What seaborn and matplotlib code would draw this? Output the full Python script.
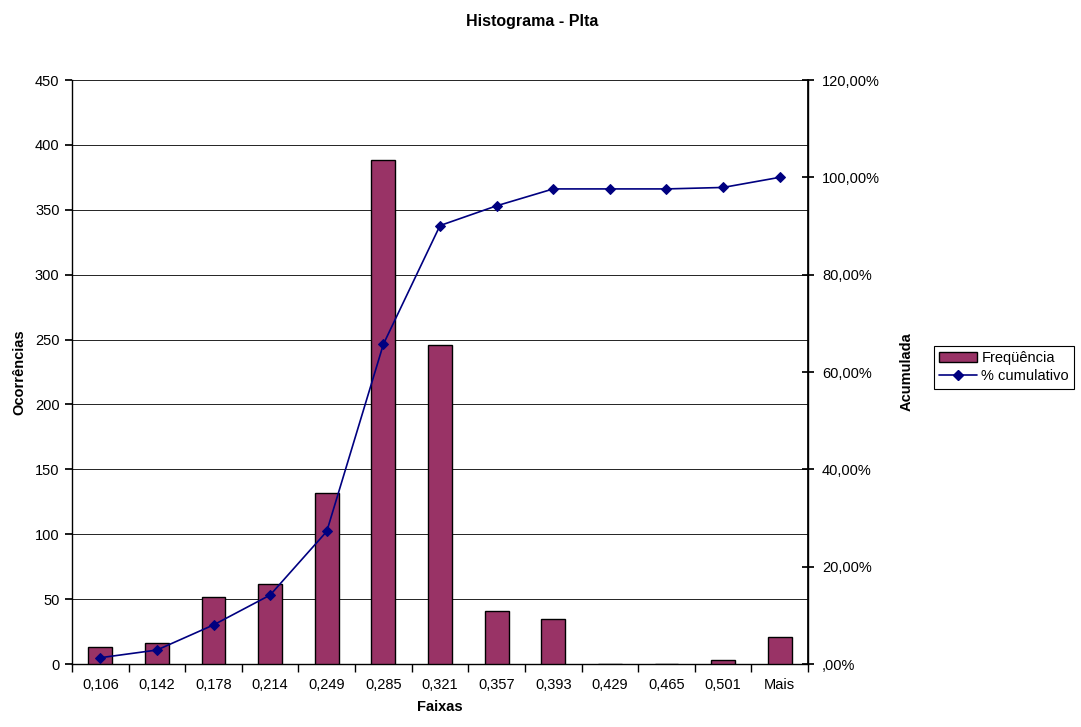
import matplotlib
matplotlib.use("Agg")
import matplotlib.pyplot as plt
import seaborn as sns
import pandas as pd
import numpy as np
from matplotlib.ticker import FuncFormatter, FixedLocator
from matplotlib.lines import Line2D
from matplotlib.patches import Patch

categories = ["0,106", "0,142", "0,178", "0,214", "0,249", "0,285", "0,321",
              "0,357", "0,393", "0,429", "0,465", "0,501", "Mais"]
frequencia = [13, 16, 52, 62, 132, 388, 246, 41, 35, 0, 0, 3, 21]
cumulativo = [1.29, 2.87, 8.03, 14.17, 27.25, 65.71, 90.09, 94.15, 97.62, 97.62, 97.62, 97.92, 100.0]

sns.set_theme(style="white")
plt.rcParams['font.family'] = ['Liberation Sans', 'DejaVu Sans']
plt.rcParams['text.color'] = 'black'
plt.rcParams['axes.labelcolor'] = 'black'
plt.rcParams['xtick.color'] = 'black'
plt.rcParams['ytick.color'] = 'black'

df = pd.DataFrame({"cat": categories, "freq": frequencia, "cum": [c / 100 for c in cumulativo]})
df["x"] = range(len(categories))

fig = plt.figure(figsize=(10.81, 7.27), dpi=100)
ax = fig.add_axes([72/1081, 1 - 664/727, (808-72)/1081, (664-80)/727])

sns.barplot(data=df, x="cat", y="freq", ax=ax, color="#993366", saturation=1,
            width=0.42, edgecolor="black", linewidth=1.0, zorder=3)
ax.set_xlim(-0.5, len(categories) - 0.5)
ax.set_ylim(0, 450)
ax.set_yticks(range(0, 451, 50))
ax.grid(axis="y", color="black", linewidth=0.6, zorder=0)
ax.set_axisbelow(True)
ax.spines["top"].set_visible(False)
for s in ["left", "bottom", "right"]:
    ax.spines[s].set_color("black")
    ax.spines[s].set_linewidth(1.0)
ax.tick_params(axis="y", which="major", direction="out", length=5, color="black",
               labelsize=10.5, left=True, pad=4, labelcolor="black")
ax.tick_params(axis="x", which="major", length=0, labelsize=10.5, pad=10, labelcolor="black")
ax.xaxis.set_minor_locator(FixedLocator(np.arange(-0.5, len(categories), 1.0)))
ax.tick_params(axis="x", which="minor", direction="out", length=6, color="black", bottom=True)
ax.set_xlabel("Faixas", fontsize=10.5, fontweight="bold", labelpad=6, color="black")
ax.set_ylabel("Ocorrências", fontsize=10.5, fontweight="bold", labelpad=6, color="black")

ax2 = ax.twinx()
sns.lineplot(data=df, x="x", y="cum", ax=ax2, color="#000080", marker="D",
             markersize=5.5, markeredgecolor="#000080", linewidth=1.2, zorder=4)
ax2.set_ylim(0, 1.2)
ax2.set_yticks(np.arange(0, 1.21, 0.2))

def pct(v, pos):
    s = f"{v*100:.2f}".replace(".", ",")
    if s.startswith("0,"):
        s = s[1:]
    return s + "%"

ax2.yaxis.set_major_formatter(FuncFormatter(pct))
ax2.tick_params(axis="y", which="major", direction="inout", length=8, color="black",
                labelsize=10.5, right=True, pad=6, labelcolor="black")
ax2.set_ylabel("Acumulada", fontsize=10.5, fontweight="bold", labelpad=14, color="black")
ax2.grid(False)
for s in ["top", "left", "bottom"]:
    ax2.spines[s].set_visible(False)
ax2.spines["right"].set_color("black")
ax2.set_xlim(-0.5, len(categories) - 0.5)

fig.suptitle("Histograma - Plta", x=532/1081, y=1 - 14/727,
             fontsize=11.5, fontweight="bold", va="top", color="black")

handles = [Patch(facecolor="#993366", edgecolor="black", linewidth=1.0, label="Freqüência"),
           Line2D([0], [0], color="#000080", marker="D", markersize=5.5, linewidth=1.2,
                  label="% cumulativo")]
leg = fig.legend(handles=handles, loc="upper left",
                 bbox_to_anchor=(934/1081, 1 - 346/727), fontsize=10.5,
                 frameon=True, fancybox=False, edgecolor="black", framealpha=1,
                 handlelength=2.6, handletextpad=0.3, borderpad=0.35, labelspacing=0.3,
                 borderaxespad=0)
leg.get_frame().set_linewidth(0.8)
for t in leg.get_texts():
    t.set_color("black")

fig.savefig("out.png", dpi=100)
